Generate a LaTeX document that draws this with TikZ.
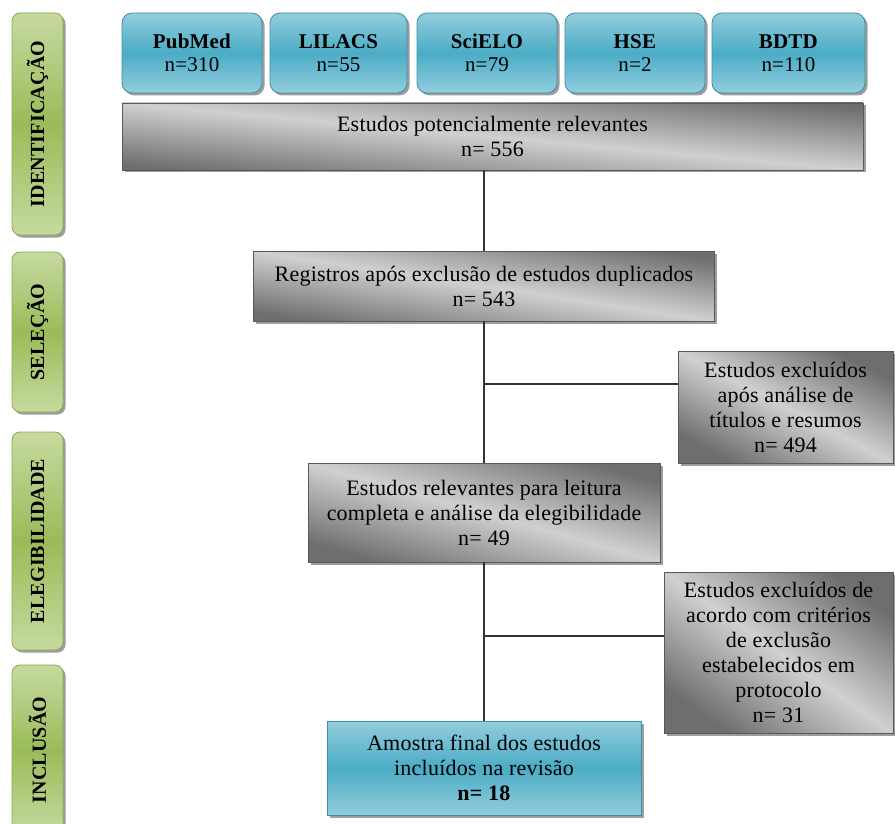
\documentclass[tikz,border=0pt]{standalone}
\usepackage{fontspec}
\setmainfont{Liberation Serif}[LetterSpace=1]
\usepackage{tikz}
\usetikzlibrary{shadows, calc}
\definecolor{azulclaro}{HTML}{93CDDD}
\definecolor{azulescuro}{HTML}{4BACC6}
\definecolor{azulborda}{HTML}{3F8FA6}
\definecolor{verdeclaro}{HTML}{C6DA9F}
\definecolor{verdeescuro}{HTML}{9BBB59}
\definecolor{verdeborda}{HTML}{8BA94E}
\definecolor{cinzaclaro}{HTML}{D0D0D0}
\definecolor{cinzaescuro}{HTML}{6E6E6E}
\tikzset{
  base box/.style={
    inner sep=0pt,
    align=center,
    font=\fontsize{22}{25}\selectfont,
    line width=0.8pt,
    drop shadow={shadow xshift=2.5pt, shadow yshift=-2.5pt, opacity=0.55, fill=black!70}
  },
  fase tab/.style={
    base box,
    rounded corners=8pt,
    draw=verdeborda,
    top color=verdeclaro, bottom color=verdeclaro, middle color=verdeescuro,
    minimum width=51pt,
    font=\fontsize{20}{22}\selectfont\bfseries
  },
  db box/.style={
    base box,
    rounded corners=10pt,
    draw=azulborda,
    top color=azulclaro, bottom color=azulclaro, middle color=azulescuro,
    minimum height=80pt,
    font=\fontsize{21}{23}\selectfont
  },
  gray box/.style={
    base box,
    draw=black!65,
    top color=cinzaescuro, bottom color=cinzaescuro, middle color=cinzaclaro
  },
  final box/.style={
    base box,
    draw=azulborda,
    top color=azulclaro, bottom color=azulclaro, middle color=azulescuro
  },
  linha/.style={
    draw=black!80,
    line width=1.3pt
  }
}

\begin{document}
\begin{tikzpicture}[x=1pt, y=-1pt]
    % area da figura: 895 x 824 (1 unidade = 1 pixel)
    \useasboundingbox (0,0) rectangle (895,824);
    \clip (0,0) rectangle (895,824);

    % fases (abas verdes a esquerda)
    \node[fase tab, minimum height=222pt] (tabId) at (37.5,124) {\rotatebox{90}{IDENTIFICAÇÃO}};
    \node[fase tab, minimum height=160pt] (tabSel) at (37.5,332) {\rotatebox{90}{SELEÇÃO}};
    \node[fase tab, minimum height=218pt] (tabEleg) at (37.5,541) {\rotatebox{90}{ELEGIBILIDADE}};
    \node[fase tab, minimum height=170pt] (tabIncl) at (37.5,750) {\rotatebox{90}{INCLUSÃO}};

    % bases de dados
    \foreach \nome/\base/\n/\x/\w in {pubmed/PubMed/310/192/140, lilacs/LILACS/55/338.5/137,
        scielo/SciELO/79/487/140, hse/HSE/2/635/140, bdtd/BDTD/110/788.5/153} {
      \node[db box, minimum width=\w pt] (\nome) at (\x,53) {\textbf{\base}\\n=\n};
    }

    % estudos potencialmente relevantes (angulo do degrade segue a diagonal da caixa)
    \node[gray box, shading angle=-5.2, minimum width=741pt, minimum height=67pt] (potRel) at (492.5,136.5)
      {Estudos potencialmente relevantes\\n= 556};

    % selecao
    \node[gray box, shading angle=-8.6, minimum width=461pt, minimum height=70pt] (registros) at (484,286)
      {Registros após exclusão de estudos duplicados\\n= 543};
    \node[gray box, shading angle=-27.5, minimum width=215pt, minimum height=112pt] (excl1) at (785.5,407)
      {Estudos excluídos\\após análise de\\títulos e resumos\\n= 494};

    % elegibilidade
    \node[gray box, shading angle=-15.7, minimum width=352pt, minimum height=99pt] (relev) at (484,512.5)
      {Estudos relevantes para leitura\\completa e análise da elegibilidade\\n= 49};
    \node[gray box, shading angle=-35.1, minimum width=229pt, minimum height=161pt] (excl2) at (778.5,652.5)
      {Estudos excluídos de\\acordo com critérios\\de exclusão\\estabelecidos em\\protocolo\\n= 31};

    % inclusao
    \node[final box, minimum width=314pt, minimum height=94pt] (amostra) at (484,768)
      {Amostra final dos estudos\\incluídos na revisão\\\textbf{n= 18}};

    % ligacoes
    \draw[linha] (registros.north |- potRel.south) -- (registros.north);
    \draw[linha] (registros.south) -- (relev.north);
    \coordinate (ramo1) at (484,384);
    \draw[linha] (ramo1) -- (ramo1 -| excl1.west);
    \draw[linha] (relev.south) -- (amostra.north);
    \coordinate (ramo2) at (484,636);
    \draw[linha] (ramo2) -- (ramo2 -| excl2.west);

\end{tikzpicture}
\end{document}
